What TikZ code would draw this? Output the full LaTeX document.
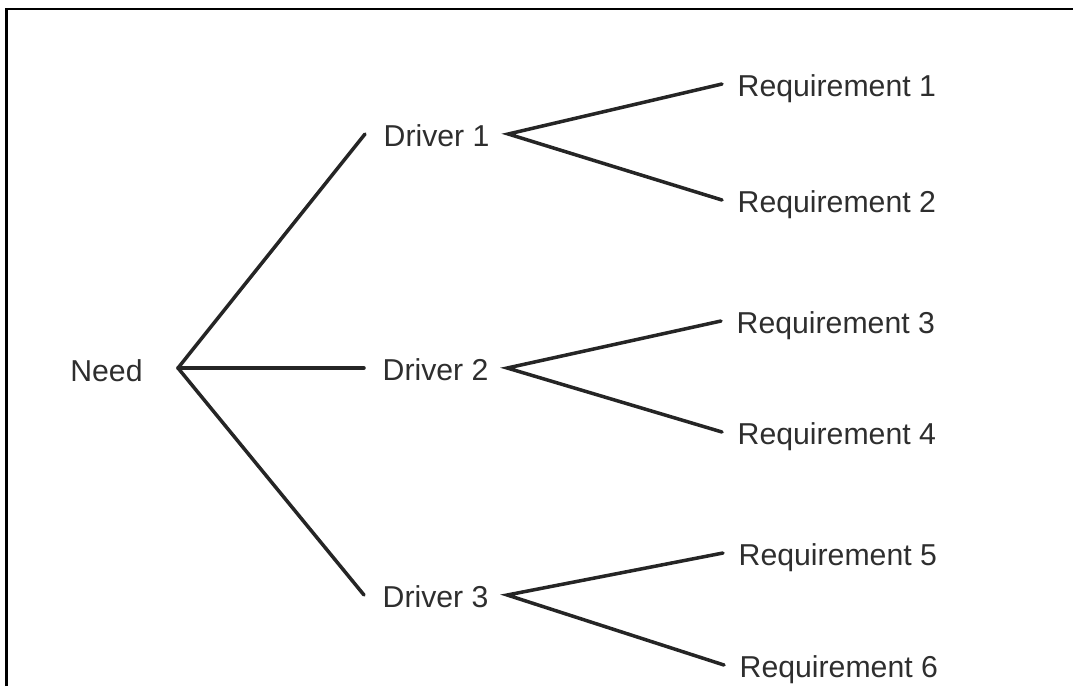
\documentclass[tikz,border=0pt]{standalone}
\usepackage{fontspec}
\setmainfont{Liberation Sans}
\usetikzlibrary{positioning}
\definecolor{cLine}{HTML}{252525}
\definecolor{cText}{HTML}{2E2E2E}

\begin{document}
\begin{tikzpicture}[
    font=\fontsize{8.6}{10.3}\selectfont,
    every node/.style={text=cText, text height=1.6ex, text depth=0.3ex, inner ysep=1pt},
    drvnode/.style={anchor=west, inner xsep=1.8mm},
    reqnode/.style={anchor=west, inner xsep=1.5mm},
    branch/.style={draw=cLine, line width=1pt, line cap=round},
]
\useasboundingbox (0,0) rectangle (10.73,-6.86);

% ---- frame (cut at right and bottom) ----
\draw[line width=0.8pt] (0.065,-6.86) |- (10.73,-0.09);

% ---- need ----
\node (need) at (1.065,-3.69) {Need};
\coordinate (needfork) at (1.78,-3.68);

% ---- drivers ----
\node[drvnode] (drv1) at (3.65,-1.34) {Driver 1};
\node[drvnode] (drv2) at (3.64,-3.68) {Driver 2};
\node[drvnode] (drv3) at (3.64,-5.95) {Driver 3};

% ---- requirements ----
\node[reqnode] (req1) at (7.22,-0.84) {Requirement 1};
\node[reqnode] (req2) at (7.22,-2.00) {Requirement 2};
\node[reqnode] (req3) at (7.21,-3.21) {Requirement 3};
\node[reqnode] (req4) at (7.22,-4.32) {Requirement 4};
\node[reqnode] (req5) at (7.23,-5.53) {Requirement 5};
\node[reqnode] (req6) at (7.24,-6.65) {Requirement 6};

% ---- branches ----
\foreach \d in {1,2,3}
  \draw[branch] (needfork) -- (drv\d.west);
\foreach \d/\a/\b in {1/1/2,2/3/4,3/5/6}
  \draw[branch] (req\a.west) -- (drv\d.east) -- (req\b.west);

\end{tikzpicture}
\end{document}
